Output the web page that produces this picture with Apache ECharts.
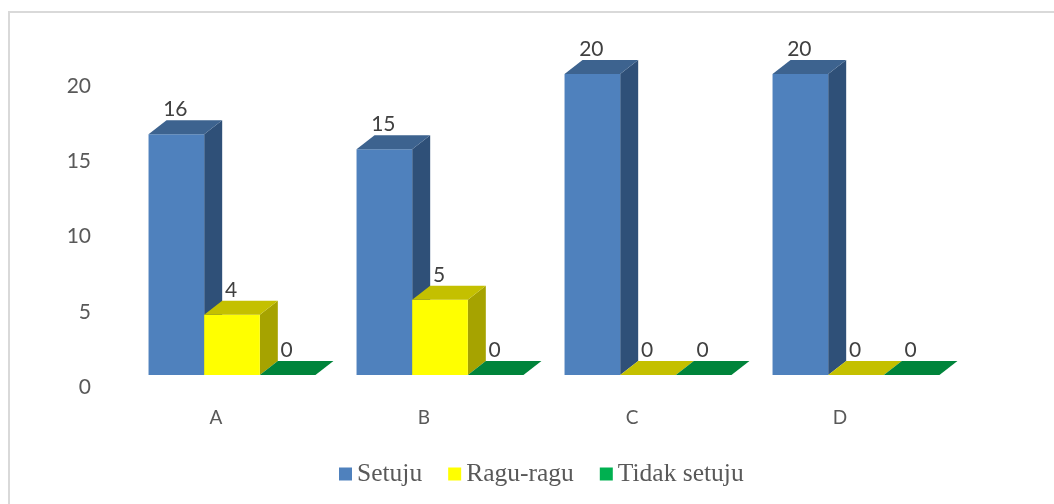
<!DOCTYPE html>
<html>
<head>
<meta charset="utf-8">
<title>Chart</title>
<script src="https://cdn.jsdelivr.net/npm/echarts@6/dist/echarts.min.js"></script>
<style>
html, body { margin: 0; padding: 0; background: #fff; }
#chart { width: 1054px; height: 504px; }
</style>
</head>
<body>
<div id="chart"></div>
<script>
var categories = ['A', 'B', 'C', 'D'];
var yTicks = [0, 5, 10, 15, 20];
var setuju = [16, 15, 20, 20];
var raguRagu = [4, 5, 0, 0];
var tidakSetuju = [0, 0, 0, 0];

var depthX = 18, depthY = 14;

function pairs(values) {
    return categories.map(function (c, i) {
        return [c, values[i]];
    });
}

// 3D-looking bar: front, top and side faces, all taken from the axis scales
function bar3d(offset, front, top, side) {
    return function (params, api) {
        var base = api.coord([api.value(0), 0]);
        var head = api.coord([api.value(0), api.value(1)]);
        var w = api.size([1, 0])[0] * 0.2675;
        var x0 = base[0] + (offset - 0.5) * w;
        var x1 = x0 + w;
        var y0 = base[1];
        var y1 = head[1];
        var children = [];
        if (y0 - y1 > 0.5) {
            children.push({
                type: 'polygon',
                shape: { points: [[x1, y1], [x1 + depthX, y1 - depthY], [x1 + depthX, y0 - depthY], [x1, y0]] },
                style: { fill: side }
            });
            children.push({
                type: 'rect',
                shape: { x: x0, y: y1, width: w, height: y0 - y1 },
                style: { fill: front }
            });
        }
        children.push({
            type: 'polygon',
            shape: { points: [[x0, y1], [x0 + depthX, y1 - depthY], [x1 + depthX, y1 - depthY], [x1, y1]] },
            style: { fill: top }
        });
        children.push({
            type: 'text',
            style: {
                x: (x0 + x1) / 2 - 1,
                y: y1 - 25,
                text: String(api.value(1)),
                font: '21px Lato',
                fill: '#404040',
                align: 'center',
                verticalAlign: 'middle'
            }
        });
        return { type: 'group', children: children };
    };
}

var chart = echarts.init(document.getElementById('chart'));
chart.setOption({
    animation: false,
    backgroundColor: '#fff',
    // frame runs off the right and bottom of the picture, as in the source
    graphic: [{
        type: 'rect',
        shape: { x: 9, y: 12, width: 1100, height: 600 },
        style: { fill: 'none', stroke: '#d9d9d9', lineWidth: 2 }
    }],
    grid: { left: 128, width: 832, top: 74, height: 301 },
    xAxis: {
        type: 'category',
        data: categories,
        axisLine: { show: false },
        axisTick: { show: false },
        axisLabel: {
            fontFamily: 'Lato',
            fontSize: 19,
            color: '#595959',
            margin: 33,
            padding: [0, 32, 0, 0]
        }
    },
    yAxis: {
        type: 'value',
        min: 0,
        max: 20,
        interval: 5,
        splitLine: { show: false },
        axisLine: { show: false },
        axisTick: { show: false },
        axisLabel: {
            fontFamily: 'Lato',
            fontSize: 21,
            color: '#595959',
            margin: 37,
            verticalAlign: 'top',
            lineHeight: 24,
            formatter: function (v) {
                return yTicks.indexOf(v) >= 0 ? String(v) : '';
            }
        }
    },
    legend: {
        left: 339,
        top: 461,
        padding: 0,
        icon: 'rect',
        itemWidth: 13,
        itemHeight: 13,
        itemGap: 26,
        textStyle: {
            fontFamily: 'Liberation Serif',
            fontSize: 25.5,
            color: '#595959'
        },
        data: ['Setuju', 'Ragu-ragu', 'Tidak setuju']
    },
    series: [{
        name: 'Setuju',
        type: 'custom',
        renderItem: bar3d(-1, '#4f81bd', '#3d638f', '#2f5078'),
        itemStyle: { color: '#4f81bd' },
        encode: { x: 0, y: 1 },
        data: pairs(setuju)
    }, {
        name: 'Ragu-ragu',
        type: 'custom',
        renderItem: bar3d(0, '#ffff00', '#c4c000', '#a6a300'),
        itemStyle: { color: '#ffff00' },
        encode: { x: 0, y: 1 },
        data: pairs(raguRagu)
    }, {
        name: 'Tidak setuju',
        type: 'custom',
        renderItem: bar3d(1, '#00b050', '#00843b', '#006c31'),
        itemStyle: { color: '#00b050' },
        encode: { x: 0, y: 1 },
        data: pairs(tidakSetuju)
    }]
});
</script>
</body>
</html>
